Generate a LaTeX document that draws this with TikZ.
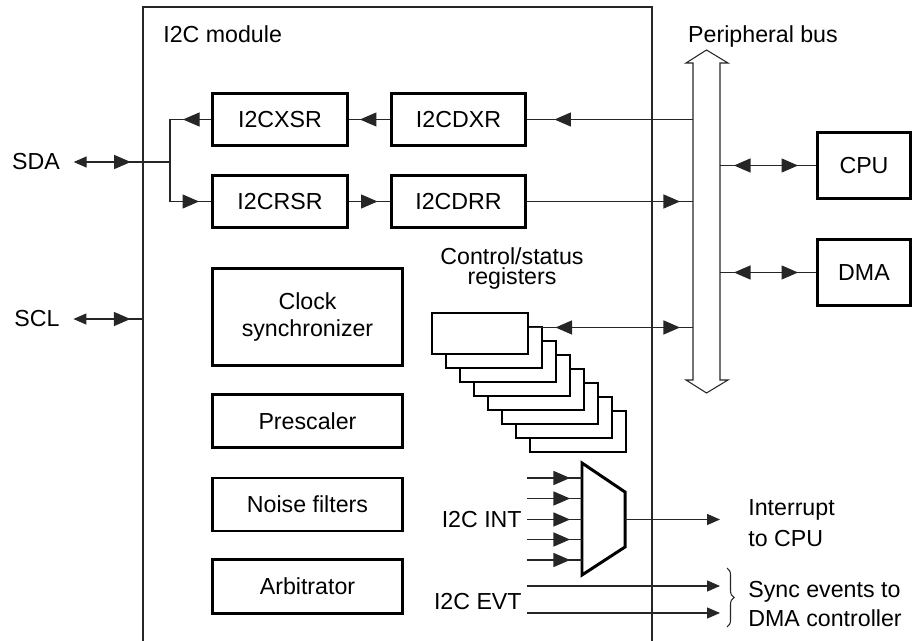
\documentclass[tikz,border=0pt]{standalone}
\usepackage{fontspec}
\setmainfont{Liberation Sans}
\usetikzlibrary{positioning,calc,arrows.meta,decorations.markings,decorations.pathreplacing}

\tikzset{
  wire/.style={line width=0.6pt,draw=black!85},
  midtip/.tip={Triangle[length=9.4pt,width=8pt]},
  fwd/.style={postaction={decorate,decoration={markings,mark=at position #1 with {\arrow{midtip}}}}},
  bwd/.style={postaction={decorate,decoration={markings,mark=at position #1 with {\arrowreversed{midtip}}}}},
  reg/.style={draw,line width=1.7pt,minimum width=2.7cm,minimum height=1.04cm,inner sep=0pt},
  blk/.style={draw,line width=1.7pt,minimum width=3.8cm,minimum height=1.06cm,align=center,inner sep=0pt},
  ext/.style={draw,line width=1.7pt,minimum width=1.86cm,minimum height=1.32cm,inner sep=0pt},
  csr/.style={draw,fill=white,line width=0.6pt,minimum width=1.92cm,minimum height=0.82cm,inner sep=0pt},
  lbl/.style={inner sep=0pt},
  pinlbl/.style={inner ysep=0pt,inner xsep=0.27cm},
}

\begin{document}
\begin{tikzpicture}[x=0.02cm,y=-0.02cm,
  font=\fontsize{13.2}{15.5}\selectfont,
  >={Triangle[length=7.4pt,width=6.3pt]}]
\useasboundingbox (0,0) rectangle (913,641);

% module frame
\coordinate (frameL) at (143,7);
\coordinate (frameR) at (652,7);
\draw[wire] (143,641) -- (frameL) -- (frameR) -- (652,641);
\node[lbl,anchor=base west] (title) at (163,43) {I2C module};

% peripheral bus
\coordinate (busL) at (693,0);
\coordinate (busR) at (720,0);
\draw[wire,fill=white] (693,380) -- (693,63) -- (686,63) -- (706.5,50) -- (728,63)
  -- (720,63) -- (720,380) -- (728,380) -- (706.5,393) -- (686,380) -- cycle;
\node[lbl,anchor=base] (bus) at (763,43) {Peripheral bus};

% data registers
\node[reg] (XSR) at (280,119.5) {I2CXSR};
\node[reg] (DXR) at (458.5,119.5) {I2CDXR};
\node[reg] (RSR) at (280,201.5) {I2CRSR};
\node[reg] (DRR) at (458.5,201.5) {I2CDRR};

\node[blk,minimum height=1.94cm] (clk) at (307.5,317) {Clock\\synchronizer};
\node[blk] (pre) at (307.5,421) {Prescaler};
\node[blk] (noise) at (307.5,504.5) {Noise filters};
\node[blk,minimum height=1.08cm] (arb) at (307.5,586.5) {Arbitrator};

\node[ext] (CPU) at (864,165.5) {CPU};
\node[ext] (DMA) at (864,272.5) {DMA};

% pins
\node[pinlbl,anchor=base] (SDA) at (36,170) {SDA};
\node[pinlbl,anchor=base] (SCL) at (37,327) {SCL};
\coordinate (fork) at (170,160.5);

\draw[wire,<-,fwd=1.14cm] (SDA.east) -- (SDA.east -| fork);
\draw[wire,<-,fwd=1.14cm] (SCL.east) -- (SCL.east -| frameL);
\draw[wire,fwd=0.56cm] (XSR.west) -- (XSR.west -| fork);
\draw[wire,fwd=-0.24cm] (XSR.west -| fork) -- (RSR.west -| fork) -- (RSR.west);
\draw[wire,fwd=-0.22cm] (DXR.west) -- (XSR.east);
\draw[wire,fwd=-0.24cm] (RSR.east) -- (DRR.west);
\draw[wire,fwd=-0.54cm] (DXR.east -| busL) -- (DXR.east);
\draw[wire,fwd=-0.26cm] (DRR.east) -- (DRR.east -| busL);
\draw[wire,bwd=0.28cm,fwd=-0.36cm] (CPU.west -| busR) -- (CPU.west);
\draw[wire,bwd=0.28cm,fwd=-0.36cm] (DMA.west -| busR) -- (DMA.west);

% control/status register stack
\foreach \i in {7,...,0}
  \node[csr] (csr\i) at (480+14*\i,333.5+14*\i) {};
\node[lbl,align=center,font=\fontsize{13.2}{11.8}\selectfont,anchor=base] (csrtxt) at (512,285) {Control/status\\registers};
\coordinate (csrport) at ($(csr0.north east)+(0,15)$);
\draw[wire,bwd=0.26cm,fwd=-0.54cm] (csrport -| busL) -- (csrport);

% interrupt multiplexer
\draw[line width=1.7pt] (582,463) -- (625,492) -- (625,547) -- (582,575) -- cycle;
\coordinate (muxout) at (625,519.5);
\foreach \y in {478,498.5,519.5,539.5,560}
  \draw[wire,fwd=-0.24cm] (527,\y) -- (582,\y);
\node[lbl,anchor=east] (int) at (522,520) {I2C INT};
\coordinate (intend) at (720,519.5);
\draw[wire,->] (muxout) -- (intend);
\node[lbl,anchor=west,align=left,font=\fontsize{13.2}{18}\selectfont] (inttxt) at (748,523) {Interrupt\\to CPU};

% DMA events
\node[lbl,anchor=east] (evt) at (522,601.5) {I2C EVT};
\coordinate (evtA) at (527,586);
\coordinate (evtB) at (527,613);
\draw[wire,->] (evtA) -- (evtA -| intend);
\draw[wire,->] (evtB) -- (evtB -| intend);
\draw[wire,decorate,decoration={brace,amplitude=4pt}] (727,568) -- (727,627);
\node[lbl,anchor=west,align=left,font=\fontsize{13.2}{17}\selectfont] (evttxt) at (748,604) {Sync events to\\DMA controller};
\end{tikzpicture}
\end{document}
